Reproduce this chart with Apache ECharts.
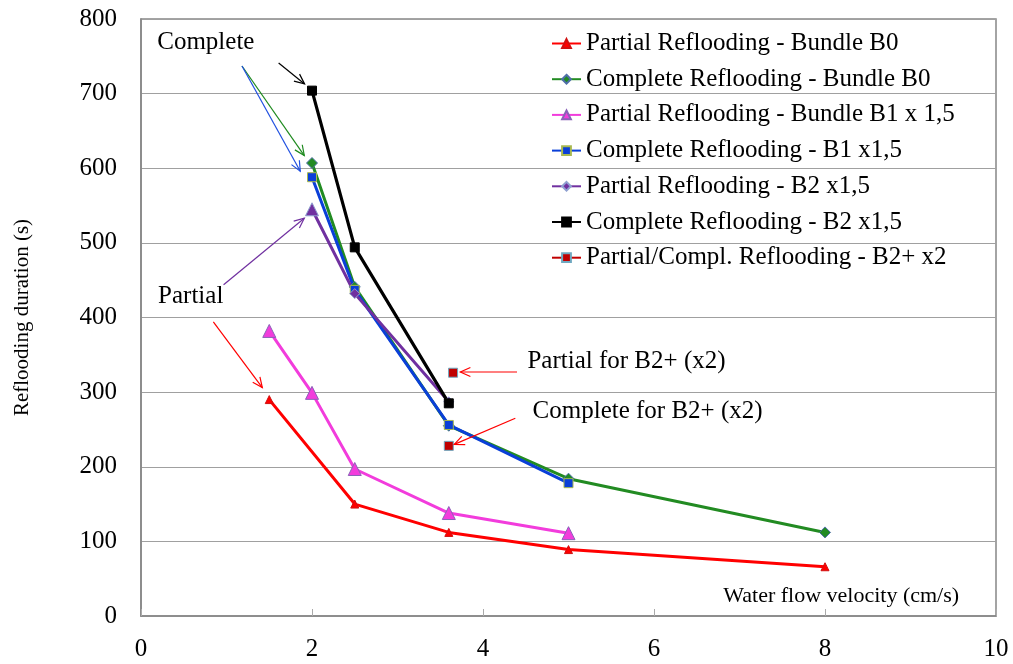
<!DOCTYPE html>
<html><head><meta charset="utf-8">
<script src="https://cdn.jsdelivr.net/npm/echarts@6/dist/echarts.min.js"></script>
<style>html,body{margin:0;padding:0;background:#fff}#c{width:1013px;height:664px}</style>
</head><body><div id="c"></div>
<script>
const FONT = 'Liberation Serif';
// data
const xPartialB0 = [1.5, 2.5, 3.6, 5, 8];
const yPartialB0 = [290, 150, 112, 89, 66];
const xCompleteB0 = [2, 2.5, 3.6, 5, 8];
const yCompleteB0 = [607, 441, 255, 184, 112];
const xPartialB1 = [1.5, 2, 2.5, 3.6, 5];
const yPartialB1 = [382, 299, 197, 138, 111];
const xCompleteB1 = [2, 2.5, 3.6, 5];
const yCompleteB1 = [588, 437, 256, 178];
const xPartialB2 = [2, 2.5, 3.6];
const yPartialB2 = [545, 432, 287];
const xCompleteB2 = [2, 2.5, 3.6];
const yCompleteB2 = [704, 494, 285];
const xB2plus = [3.65, 3.6];
const yB2plus = [326, 228];
const seriesNames = [
  'Partial Reflooding - Bundle B0',
  'Complete Reflooding - Bundle B0',
  'Partial Reflooding - Bundle B1 x 1,5',
  'Complete Reflooding - B1 x1,5',
  'Partial Reflooding - B2 x1,5',
  'Complete Reflooding - B2 x1,5',
  'Partial/Compl. Reflooding - B2+ x2'
];
// annotations (data coordinates)
const annoTexts = [
  {text: 'Complete', x: 0.19, y: 769},
  {text: 'Partial', x: 0.20, y: 428},
  {text: 'Partial for B2+ (x2)', x: 4.52, y: 341},
  {text: 'Complete for B2+ (x2)', x: 4.58, y: 274}
];
const annoArrows = [
  {from: [1.61, 741], to: [1.913, 713], color: '#000000'},
  {from: [1.181, 737], to: [1.91, 617], color: '#1E8A1E'},
  {from: [1.181, 737], to: [1.863, 596], color: '#1F4FE0'},
  {from: [0.966, 444], to: [1.91, 533], color: '#7030A0'},
  {from: [0.846, 394], to: [1.419, 306], color: '#FF0000'},
  {from: [4.398, 327], to: [3.735, 327], color: '#FF0000'},
  {from: [4.378, 265], to: [3.664, 230], color: '#FF0000'}
];

function pairs(xs, ys) { return xs.map((x, i) => [x, ys[i]]); }
function mk(name, data, color, symbol, size, borderColor, lw) {
  return {
    name, type: 'line', data, symbol, symbolSize: size, showSymbol: true,
    lineStyle: {color, width: lw == null ? 3 : lw},
    itemStyle: {color, borderColor: borderColor || color, borderWidth: 1},
    emphasis: {disabled: true}, animation: false
  };
}
const purpleData = pairs(xPartialB2, yPartialB2).map((p, i) =>
  i === 0 ? {value: p, symbol: 'triangle', symbolSize: 13} : p);
const b2Data = [[xB2plus[0], yB2plus[0]], [3.62, '-'], [xB2plus[1], yB2plus[1]]];

const series = [
  mk(seriesNames[0], pairs(xPartialB0, yPartialB0), '#FF0000', 'triangle', 8, '#D01010'),
  mk(seriesNames[1], pairs(xCompleteB0, yCompleteB0), '#228B22', 'diamond', 11, '#4F6FA8'),
  mk(seriesNames[2], pairs(xPartialB1, yPartialB1), '#F23CDC', 'triangle', 13, '#8A62B8'),
  mk(seriesNames[3], pairs(xCompleteB1, yCompleteB1), '#0A3FD8', 'rect', 9, '#A8B850'),
  mk(seriesNames[4], purpleData, '#7030A0', 'diamond', 10, '#8FA0D0'),
  mk(seriesNames[5], pairs(xCompleteB2, yCompleteB2), '#000000', 'rect', 9, '#000000', 3.2),
  mk(seriesNames[6], b2Data, '#C00000', 'rect', 9, '#6FA8C0')
];

const chart = echarts.init(document.getElementById('c'), null, {renderer: 'canvas'});
chart.setOption({
  backgroundColor: '#ffffff',
  animation: false,
  grid: {left: 141, right: 17, top: 19, bottom: 48, containLabel: false,
         show: true, borderColor: '#868686', borderWidth: 1.5},
  legend: {
    orient: 'vertical', left: 551, top: 31, padding: 0,
    itemWidth: 29, itemHeight: 11, itemGap: 10.7,
    data: seriesNames,
    textStyle: {fontFamily: FONT, fontSize: 25, color: '#000', lineHeight: 25},
    selectedMode: false
  },
  xAxis: {
    type: 'value', min: 0, max: 10, interval: 2,
    axisLine: {show: true, lineStyle: {color: '#868686', width: 1.5}},
    axisTick: {show: true, inside: true, length: 7, lineStyle: {color: '#AAAAAA'}},
    axisLabel: {fontFamily: FONT, fontSize: 25, color: '#000', margin: 21},
    splitLine: {show: false}
  },
  yAxis: {
    type: 'value', min: 0, max: 800, interval: 100,
    name: 'Reflooding duration (s)', nameLocation: 'middle', nameRotate: 90, nameGap: 108,
    nameTextStyle: {fontFamily: FONT, fontSize: 21, color: '#000'},
    axisLine: {show: true, lineStyle: {color: '#868686', width: 1.5}},
    axisTick: {show: false},
    axisLabel: {fontFamily: FONT, fontSize: 25, color: '#000', margin: 24},
    splitLine: {show: true, lineStyle: {color: '#A0A0A0', width: 1.2}}
  },
  series
});

function drawAnnotations() {
  const els = [];
  annoTexts.forEach(t => {
    const p = chart.convertToPixel({gridIndex: 0}, [t.x, t.y]);
    els.push({type: 'text', x: p[0], y: p[1], z: 100,
      style: {text: t.text, fontFamily: FONT, fontSize: 25, fill: '#000',
              textAlign: 'left', textVerticalAlign: 'middle'}});
  });
  const wp = chart.convertToPixel({gridIndex: 0}, [6.81, 27]);
  els.push({type: 'text', x: wp[0], y: wp[1], z: 100,
    style: {text: 'Water flow velocity (cm/s)', fontFamily: FONT, fontSize: 22, fill: '#000',
            textAlign: 'left', textVerticalAlign: 'middle'}});
  annoArrows.forEach(a => {
    const p1 = chart.convertToPixel({gridIndex: 0}, a.from);
    const p2 = chart.convertToPixel({gridIndex: 0}, a.to);
    els.push({type: 'line', z: 100, shape: {x1: p1[0], y1: p1[1], x2: p2[0], y2: p2[1]},
      style: {stroke: a.color, lineWidth: 1.2}});
    const ang = Math.atan2(p2[1] - p1[1], p2[0] - p1[0]);
    const L = 11, da = 0.42;
    const h1 = [p2[0] - L * Math.cos(ang - da), p2[1] - L * Math.sin(ang - da)];
    const h2 = [p2[0] - L * Math.cos(ang + da), p2[1] - L * Math.sin(ang + da)];
    els.push({type: 'polyline', z: 100, shape: {points: [h1, p2, h2]},
      style: {stroke: a.color, lineWidth: 1.2, fill: null}});
  });
  chart.setOption({graphic: {elements: els}});
}
drawAnnotations();
</script>
</body></html>
